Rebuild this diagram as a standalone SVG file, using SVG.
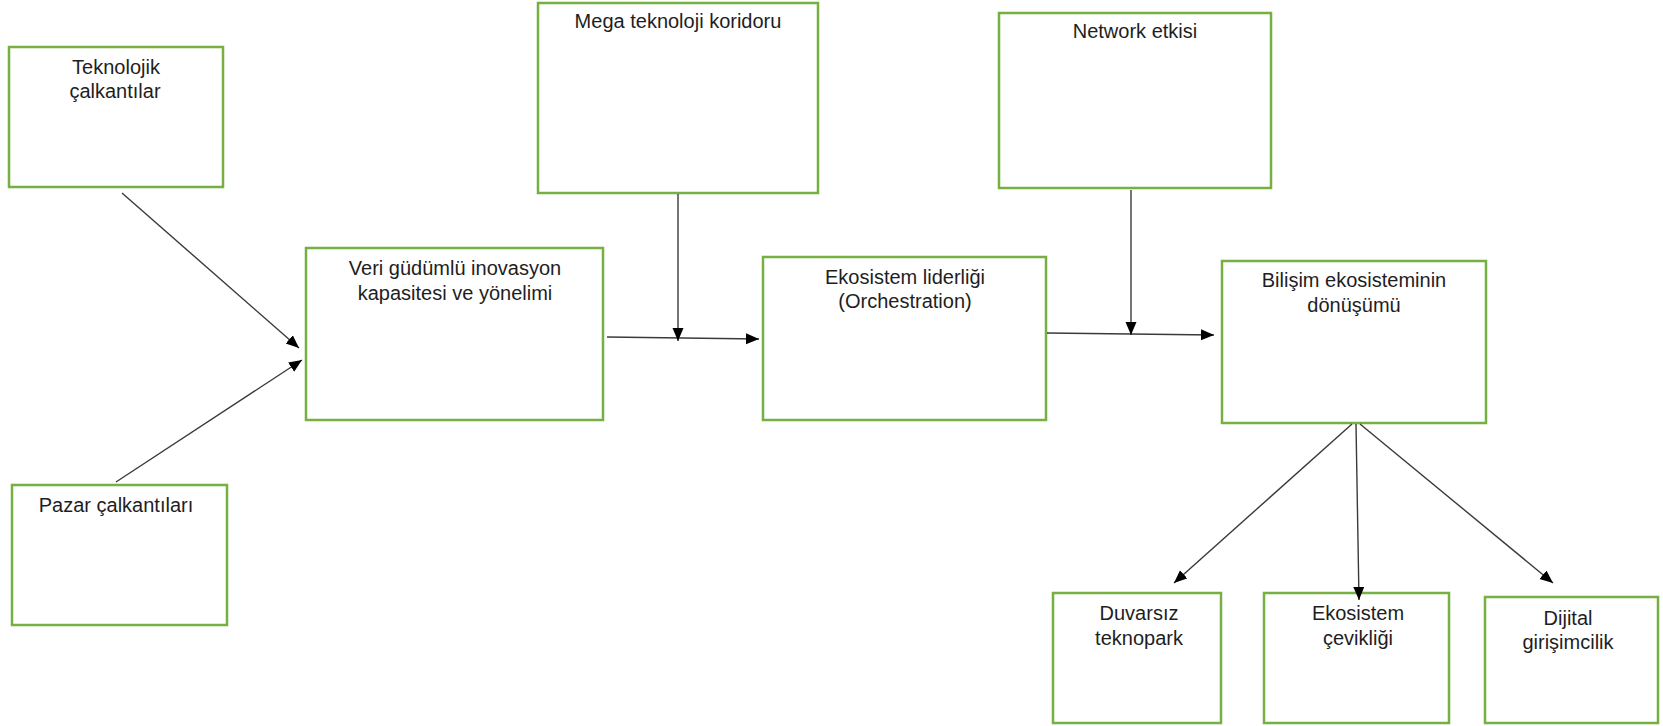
<svg xmlns="http://www.w3.org/2000/svg" width="1663" height="726" viewBox="0 0 1663 726">
<defs>
<style>
.box{fill:#ffffff;stroke:#76b041;stroke-width:2.5}
.t{font-family:"Liberation Sans",Arial,sans-serif;font-size:20px;fill:#1e1e1e;text-anchor:middle}
.c{stroke:#3a3a3a;stroke-width:1.4;fill:none;marker-end:url(#ah)}
</style>
<marker id="ah" markerUnits="userSpaceOnUse" markerWidth="14" markerHeight="12" refX="13" refY="5.5" orient="auto">
<path d="M0,0 L13,5.5 L0,11 z" fill="#000"/>
</marker>
</defs>
<rect width="1663" height="726" fill="#ffffff"/>
<g id="n1"><rect class="box" x="9" y="47" width="214" height="140"/><text class="t" x="116" y="74">Teknolojik</text><text class="t" x="115" y="98">çalkantılar</text></g>
<g id="n2"><rect class="box" x="12" y="485" width="215" height="140"/><text class="t" x="116" y="512">Pazar çalkantıları</text></g>
<g id="n3"><rect class="box" x="306" y="248" width="297" height="172"/><text class="t" x="455" y="275">Veri güdümlü inovasyon</text><text class="t" x="455" y="300">kapasitesi ve yönelimi</text></g>
<g id="n4"><rect class="box" x="538" y="3" width="280" height="190"/><text class="t" x="678" y="28">Mega teknoloji koridoru</text></g>
<g id="n5"><rect class="box" x="763" y="257" width="283" height="163"/><text class="t" x="905" y="284">Ekosistem liderliği</text><text class="t" x="905" y="308">(Orchestration)</text></g>
<g id="n6"><rect class="box" x="999" y="13" width="272" height="175"/><text class="t" x="1135" y="38">Network etkisi</text></g>
<g id="n7"><rect class="box" x="1222" y="261" width="264" height="162"/><text class="t" x="1354" y="287">Bilişim ekosisteminin</text><text class="t" x="1354" y="312">dönüşümü</text></g>
<g id="n8"><rect class="box" x="1053" y="593" width="168" height="130"/><text class="t" x="1139" y="620">Duvarsız</text><text class="t" x="1139" y="645">teknopark</text></g>
<g id="n9"><rect class="box" x="1264" y="593" width="185" height="130"/><text class="t" x="1358" y="620">Ekosistem</text><text class="t" x="1358" y="645">çevikliği</text></g>
<g id="n10"><rect class="box" x="1485" y="597" width="173" height="126"/><text class="t" x="1568" y="625">Dijital</text><text class="t" x="1568" y="649">girişimcilik</text></g>
<g id="connectors">
<line class="c" x1="122" y1="193" x2="299" y2="348"/>
<line class="c" x1="116" y1="482" x2="302" y2="360"/>
<line class="c" x1="607" y1="337" x2="759" y2="339"/>
<line class="c" x1="678" y1="194" x2="678" y2="341"/>
<line class="c" x1="1047" y1="333" x2="1214" y2="335"/>
<line class="c" x1="1131" y1="190" x2="1131" y2="335"/>
<line class="c" x1="1352" y1="424" x2="1174" y2="583"/>
<line class="c" x1="1356" y1="424" x2="1359" y2="600"/>
<line class="c" x1="1360" y1="424" x2="1553" y2="583"/>
</g>
</svg>
